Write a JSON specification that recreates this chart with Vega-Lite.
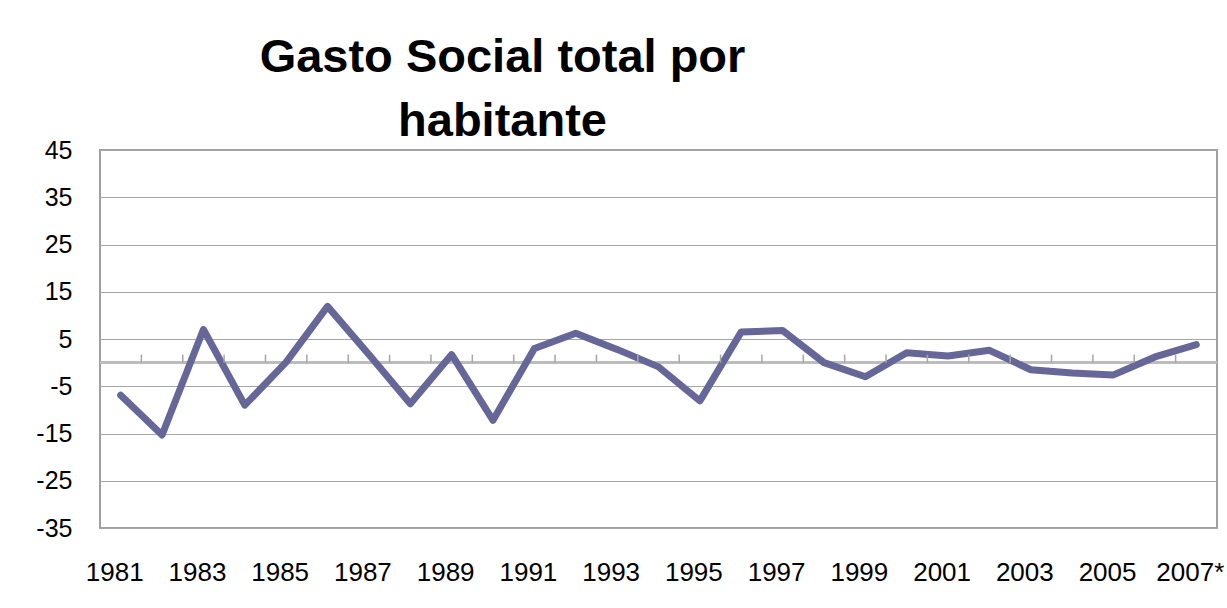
{
  "$schema": "https://vega.github.io/schema/vega-lite/v6.json",
  "autosize": {"type": "none"},
  "width": 1117,
  "height": 378,
  "padding": {"left": 100, "top": 150, "right": 10, "bottom": 80},
  "background": "white",
  "title": {
    "text": ["Gasto Social total por", "habitante"],
    "font": "Liberation Sans",
    "fontSize": 47,
    "fontWeight": "bold",
    "color": "black",
    "anchor": "middle",
    "dx": -156,
    "lineHeight": 64,
    "offset": -8
  },
  "data": {
    "values": [
      {"year": "1981", "value": -6.9},
      {"year": "1982", "value": -15.3},
      {"year": "1983", "value": 7.0},
      {"year": "1984", "value": -9.0},
      {"year": "1985", "value": 0.1},
      {"year": "1986", "value": 11.9},
      {"year": "1987", "value": 1.7},
      {"year": "1988", "value": -8.7},
      {"year": "1989", "value": 1.7},
      {"year": "1990", "value": -12.2},
      {"year": "1991", "value": 3.0},
      {"year": "1992", "value": 6.2},
      {"year": "1993", "value": 2.8},
      {"year": "1994", "value": -0.9},
      {"year": "1995", "value": -8.1},
      {"year": "1996", "value": 6.5},
      {"year": "1997", "value": 6.8},
      {"year": "1998", "value": 0.0},
      {"year": "1999", "value": -3.0},
      {"year": "2000", "value": 2.1},
      {"year": "2001", "value": 1.4},
      {"year": "2002", "value": 2.6},
      {"year": "2003", "value": -1.5},
      {"year": "2004", "value": -2.2},
      {"year": "2005", "value": -2.6},
      {"year": "2006", "value": 1.2},
      {"year": "2007*", "value": 3.8}
    ]
  },
  "config": {
    "view": {"stroke": "#a0a0a0", "strokeWidth": 2},
    "font": "Liberation Sans"
  },
  "layer": [
    {
      "mark": {"type": "rule", "color": "#bdbdbd", "strokeWidth": 2},
      "encoding": {
        "y": {"datum": 0, "type": "quantitative"}
      }
    },
    {
      "mark": {"type": "line", "color": "#666699", "strokeWidth": 7, "strokeCap": "round", "strokeJoin": "round"},
      "encoding": {
        "x": {
          "field": "year",
          "type": "ordinal",
          "sort": null,
          "bandPosition": 0.5,
          "scale": {
            "type": "band",
            "paddingInner": 0,
            "paddingOuter": 0,
            "domain": ["1981","1982","1983","1984","1985","1986","1987","1988","1989","1990","1991","1992","1993","1994","1995","1996","1997","1998","1999","2000","2001","2002","2003","2004","2005","2006","2007*"]
          },
          "axis": {
            "title": null,
            "bandPosition": 0.5,
            "values": ["1981","1983","1985","1987","1989","1991","1993","1995","1997","1999","2001","2003","2005","2007*"],
            "labelAngle": 0,
            "labelFontSize": 26,
            "labelColor": "black",
            "labelPadding": 31,
            "labelOffset": -6,
            "ticks": false,
            "domain": false,
            "grid": false
          }
        },
        "y": {
          "field": "value",
          "type": "quantitative",
          "scale": {"domain": [-35, 45], "nice": false, "zero": false},
          "axis": {
            "title": null,
            "values": [-35, -25, -15, -5, 5, 15, 25, 35, 45],
            "labelExpr": "'' + datum.value",
            "labelFontSize": 25,
            "labelColor": "black",
            "labelPadding": 28,
            "ticks": false,
            "domain": false,
            "grid": true,
            "gridColor": "#a6a6a6",
            "gridWidth": 1
          }
        }
      }
    },
    {
      "transform": [{"filter": "datum.year != '1981'"}],
      "mark": {"type": "rule", "color": "#a6a6a6", "strokeWidth": 1.5},
      "encoding": {
        "x": {"field": "year", "type": "ordinal", "bandPosition": 0, "sort": null},
        "y": {"datum": 0, "type": "quantitative"},
        "y2": {"datum": 1.7}
      }
    }
  ]
}
